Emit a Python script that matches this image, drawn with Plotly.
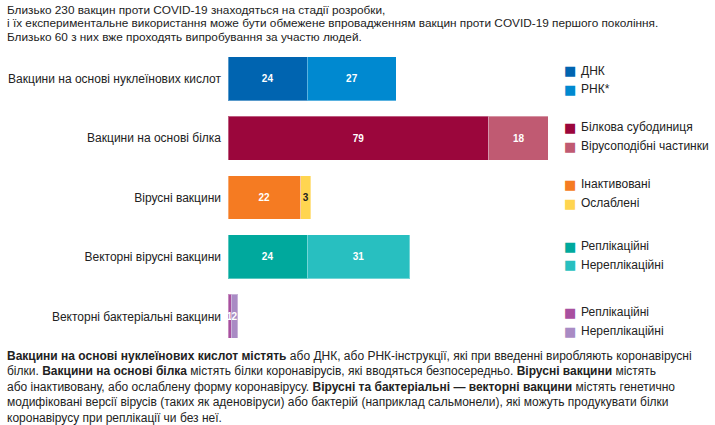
import plotly.graph_objects as go

# Дані
categories = [
    "Вакцини на основі нуклеїнових кислот",
    "Вакцини на основі білка",
    "Вірусні вакцини",
    "Векторні вірусні вакцини",
    "Векторні бактеріальні вакцини",
]
first_values = [24, 79, 22, 24, 1]
second_values = [27, 18, 3, 31, 2]
first_names = ["ДНК", "Білкова субодиниця", "Інактивовані", "Реплікаційні", "Реплікаційні"]
second_names = ["РНК*", "Вірусоподібні частинки", "Ослаблені", "Нереплікаційні", "Нереплікаційні"]

first_colors = ["#0064b0", "#9b063c", "#f57b22", "#00a99d", "#a8509f"]
second_colors = ["#0089d0", "#c05a72", "#ffd550", "#28bfc0", "#a98bc4"]
second_text_colors = ["white", "white", "#222222", "white", "white"]

top_lines = [
    "Близько 230 вакцин проти COVID-19 знаходяться на стадії розробки,",
    "і їх експериментальне використання може бути обмежене впровадженням вакцин проти COVID-19 першого покоління.",
    "Близько 60 з них вже проходять випробування за участю людей.",
]
note_lines = [
    "<b>Вакцини на основі нуклеїнових кислот містять</b> або ДНК, або РНК-інструкції, які при введенні виробляють коронавірусні",
    "білки. <b>Вакцини на основі білка</b> містять білки коронавірусів, які вводяться безпосередньо. <b>Вірусні вакцини</b> містять",
    "або інактивовану, або ослаблену форму коронавірусу. <b>Вірусні та бактеріальні — векторні вакцини</b> містять генетично",
    "модифіковані версії вірусів (таких як аденовіруси) або бактерій (наприклад сальмонели), які можуть продукувати білки",
    "коронавірусу при реплікації чи без неї.",
]

FONT = "Liberation Sans"
W, H = 715, 425
L, R, T, B = 228, 160, 49, 79


def px(x):
    return (x - L) / (W - L - R)


def py(y):
    return (H - B - y) / (H - T - B)


fig = go.Figure()
bar_line = dict(color="rgba(255,255,255,0.35)", width=1)
fig.add_trace(go.Bar(
    y=categories, x=first_values, orientation="h",
    marker=dict(color=first_colors, line=bar_line),
    text=first_values, textposition="inside", insidetextanchor="middle", textangle=0,
    textfont=dict(family=FONT, size=10, color="white", weight="bold"),
    hoverinfo="x+y",
))
fig.add_trace(go.Bar(
    y=categories, x=second_values, orientation="h",
    marker=dict(color=second_colors, line=bar_line),
    text=second_values, textposition="inside", insidetextanchor="middle", textangle=0,
    textfont=dict(family=FONT, size=10, color=second_text_colors, weight="bold"),
    hoverinfo="x+y",
))

annotations = []
for i, line in enumerate(top_lines):
    annotations.append(dict(
        text=line, xref="paper", yref="paper", x=px(5), y=py(9.5 + i * 13.6),
        xanchor="left", yanchor="middle", showarrow=False,
        font=dict(family=FONT, size=11.8, color="#222222"),
    ))
for i, line in enumerate(note_lines):
    annotations.append(dict(
        text=line, xref="paper", yref="paper", x=px(5), y=py(355.7 + i * 15.5),
        xanchor="left", yanchor="middle", showarrow=False,
        font=dict(family=FONT, size=12, color="#222222"),
    ))

# легенда для кожного рядка окремо
legend_y = [(70.7, 89), (127, 146), (184, 203), (246, 264.7), (312, 331)]
for i in range(len(categories)):
    pairs = [(first_names[i], first_colors[i], legend_y[i][0]),
             (second_names[i], second_colors[i], legend_y[i][1])]
    for name, color, yy in pairs:
        annotations.append(dict(
            text="■", xref="paper", yref="paper", x=px(570), y=py(yy),
            xanchor="center", yanchor="middle", showarrow=False,
            font=dict(family="DejaVu Sans", size=13, color=color),
        ))
        annotations.append(dict(
            text=name, xref="paper", yref="paper", x=px(579), y=py(yy),
            xanchor="left", yanchor="middle", showarrow=False,
            font=dict(family=FONT, size=12, color="#222222"),
        ))

fig.update_layout(
    width=W, height=H,
    barmode="stack", bargap=0.26,
    showlegend=False,
    margin=dict(l=L, r=R, t=T, b=B, pad=0),
    paper_bgcolor="white", plot_bgcolor="white",
    font=dict(family=FONT, size=12, color="#222222"),
    xaxis=dict(range=[0, 99], visible=False, fixedrange=True),
    yaxis=dict(autorange="reversed", showgrid=False, zeroline=False, showline=False,
               ticks="", ticklabelstandoff=6, automargin=False,
               tickfont=dict(family=FONT, size=12, color="#222222"), fixedrange=True),
    uniformtext=dict(minsize=10, mode="show"),
    annotations=annotations,
)

# прибираємо стандартний відступ сторінки, щоб графік починався з кута вікна
fig.write_html("out.html", config={"displayModeBar": False},
               post_script="document.body.style.margin = '0';")
